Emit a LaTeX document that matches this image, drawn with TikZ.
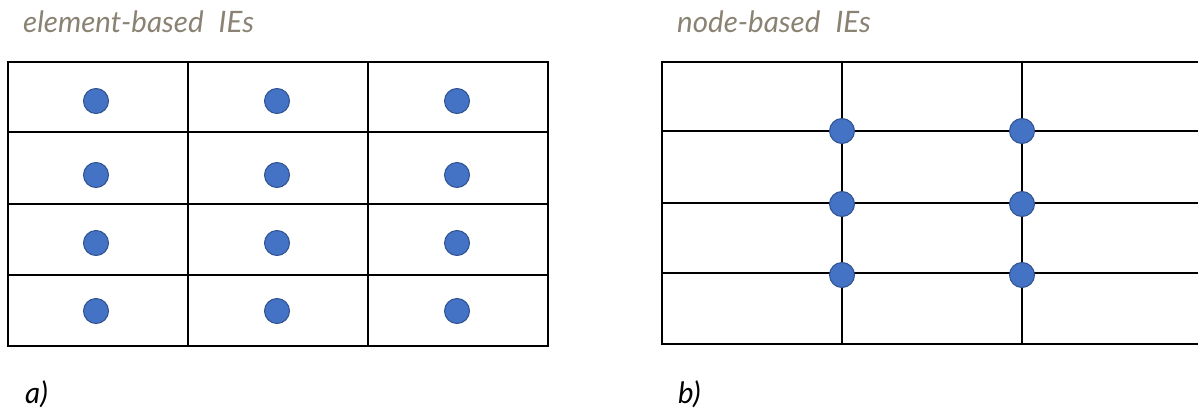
\documentclass[tikz,border=0pt]{standalone}
\usepackage{fontspec}
\setmainfont{Lato}
\definecolor{titlegray}{HTML}{8A8272}
\definecolor{dotfill}{HTML}{4472C4}
\definecolor{dotedge}{HTML}{2F528F}
\begin{document}
\begin{tikzpicture}[x=1pt,y=-1pt,
  gridline/.style={line width=1.8pt,black},
  ie/.style={circle,fill=dotfill,draw=dotedge,line width=1pt,minimum size=25pt,inner sep=0pt},
  ttl/.style={anchor=base west,text=titlegray,font=\itshape\fontsize{29.5}{34}\selectfont,inner sep=0pt},
  lbl/.style={anchor=base west,text=black,font=\itshape\fontsize{29.5}{34}\selectfont,inner sep=0pt}]
\useasboundingbox (0,0) rectangle (1198,412);
% titles
\node[ttl] (ta) at (23,33) {element-based\; IEs};
\node[ttl] (tb) at (677,33) {node-based\; IEs};
% left grid
\draw[gridline] (8,62) rectangle (548,346);
\foreach \x in {188,368} \draw[gridline] (\x,62) -- (\x,346);
\foreach \y in {132,204,275} \draw[gridline] (8,\y) -- (548,\y);
\foreach \x/\i in {96/1,277/2,457/3}
  \foreach \y/\j in {101/1,175/2,243/3,311/4}
    \node[ie] (e\i\j) at (\x,\y) {};
% right grid
\draw[gridline] (1210,62) -- (662,62) -- (662,344) -- (1210,344);
\foreach \x in {842,1022} \draw[gridline] (\x,62) -- (\x,344);
\foreach \y in {131,203,273} \draw[gridline] (662,\y) -- (1210,\y);
\foreach \x/\i in {842/1,1022/2}
  \foreach \y/\j in {131/1,204/2,275/3}
    \node[ie] (n\i\j) at (\x,\y) {};
% labels
\node[lbl] (la) at (25,403) {a)};
\node[lbl] (lb) at (678,403) {b)};
\end{tikzpicture}
\end{document}
